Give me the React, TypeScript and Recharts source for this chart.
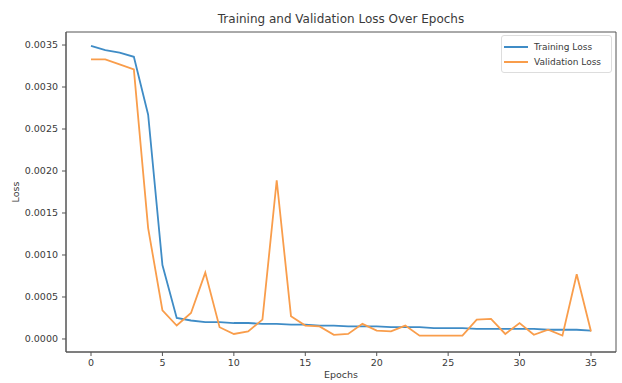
import { LineChart, Line, XAxis, YAxis, Legend, ReferenceArea } from "recharts"

const epochs = [0, 1, 2, 3, 4, 5, 6, 7, 8, 9, 10, 11, 12, 13, 14, 15, 16, 17, 18, 19, 20, 21, 22, 23, 24, 25, 26, 27, 28, 29, 30, 31, 32, 33, 34, 35]

const trainingLoss = [
  0.00349, 0.00344, 0.00341, 0.00336, 0.00267, 0.00088, 0.00025, 0.00022, 0.0002, 0.0002,
  0.00019, 0.00019, 0.00018, 0.00018, 0.00017, 0.00017, 0.00016, 0.00016, 0.00015, 0.00015,
  0.00015, 0.00014, 0.00014, 0.00014, 0.00013, 0.00013, 0.00013, 0.00012, 0.00012, 0.00012,
  0.00012, 0.00012, 0.00011, 0.00011, 0.00011, 0.0001,
]

const validationLoss = [
  0.00333, 0.00333, 0.00327, 0.00321, 0.00132, 0.00034, 0.00016, 0.00031, 0.00079, 0.00014,
  0.00006, 0.00009, 0.00023, 0.00189, 0.00027, 0.00016, 0.00015, 0.00005, 0.00006, 0.00018,
  0.0001, 0.00009, 0.00016, 0.00004, 0.00004, 0.00004, 0.00004, 0.00023, 0.00024, 0.00006,
  0.00019, 0.00005, 0.00011, 0.00004, 0.00077, 0.00009,
]

const xTicks = [0, 5, 10, 15, 20, 25, 30, 35]
const yTicks = [0, 0.0005, 0.001, 0.0015, 0.002, 0.0025, 0.003, 0.0035]

const data = epochs.map((epoch, i) => ({
  epoch,
  training: trainingLoss[i],
  validation: validationLoss[i],
}))

const X_DOMAIN: [number, number] = [-1.75, 36.75]
const Y_DOMAIN: [number, number] = [-0.000155, 0.003655]

const BLUE = "#3f8cc6"
const ORANGE = "#f99d4b"
const FONT = "'DejaVu Sans', sans-serif"
const TEXT = "#3a3a3a"
const FRAME = "#555"

function LegendBox() {
  const items = [
    { label: "Training Loss", color: BLUE },
    { label: "Validation Loss", color: ORANGE },
  ]
  return (
    <div
      style={{
        border: "1px solid #ddd",
        borderRadius: 3,
        background: "#fff",
        padding: "3px 4px 3px 2px",
        fontFamily: FONT,
        fontSize: 9,
        color: TEXT,
        whiteSpace: "nowrap",
        boxSizing: "border-box",
        width: 111,
      }}
    >
      {items.map((it) => (
        <div key={it.label} style={{ display: "flex", alignItems: "center", height: 15 }}>
          <span style={{ display: "inline-block", width: 24, height: 2, background: it.color, marginRight: 6 }} />
          {it.label}
        </div>
      ))}
    </div>
  )
}

export default function App() {
  const tick = { fill: TEXT, fontSize: 9.5, fontFamily: FONT }
  return (
    <div style={{ position: "absolute", left: 0, top: 0, width: 622, height: 383, background: "#fff" }}>
      <div
        style={{
          position: "absolute",
          top: 12,
          left: 66,
          width: 550,
          textAlign: "center",
          fontFamily: FONT,
          fontSize: 12,
          lineHeight: "14px",
          color: TEXT,
        }}
      >
        Training and Validation Loss Over Epochs
      </div>
      <div
        style={{
          position: "absolute",
          top: 369,
          left: 66,
          width: 550,
          textAlign: "center",
          fontFamily: FONT,
          fontSize: 9.5,
          lineHeight: "12px",
          color: TEXT,
        }}
      >
        Epochs
      </div>
      <div
        style={{
          position: "absolute",
          left: 15,
          top: 192,
          transform: "translate(-50%, -50%) rotate(-90deg)",
          fontFamily: FONT,
          fontSize: 9.5,
          color: TEXT,
        }}
      >
        Loss
      </div>
      <LineChart width={622} height={383} data={data} margin={{ top: 32, right: 6, bottom: 0, left: 0 }}>
        <XAxis
          dataKey="epoch"
          type="number"
          domain={X_DOMAIN}
          ticks={xTicks}
          allowDataOverflow
          height={31}
          tick={tick}
          tickSize={4}
          tickMargin={3}
          tickLine={{ stroke: FRAME }}
          axisLine={{ stroke: FRAME }}
        />
        <YAxis
          type="number"
          domain={Y_DOMAIN}
          ticks={yTicks}
          allowDataOverflow
          width={66}
          tick={tick}
          tickSize={4}
          tickMargin={4}
          tickLine={{ stroke: FRAME }}
          axisLine={{ stroke: FRAME }}
          tickFormatter={(v: number) => v.toFixed(4)}
        />
        <ReferenceArea
          x1={X_DOMAIN[0]}
          x2={X_DOMAIN[1]}
          y1={Y_DOMAIN[0]}
          y2={Y_DOMAIN[1]}
          fill="none"
          stroke={FRAME}
          strokeWidth={1}
          ifOverflow="visible"
        />
        <Legend
          layout="horizontal"
          verticalAlign="middle"
          align="center"
          content={() => <LegendBox />}
          wrapperStyle={{ position: "absolute", top: 35, left: 501, width: 111 }}
        />
        <Line
          dataKey="training"
          name="Training Loss"
          stroke={BLUE}
          strokeWidth={1.8}
          dot={false}
          type="linear"
          isAnimationActive={false}
        />
        <Line
          dataKey="validation"
          name="Validation Loss"
          stroke={ORANGE}
          strokeWidth={1.8}
          dot={false}
          type="linear"
          isAnimationActive={false}
        />
      </LineChart>
    </div>
  )
}
